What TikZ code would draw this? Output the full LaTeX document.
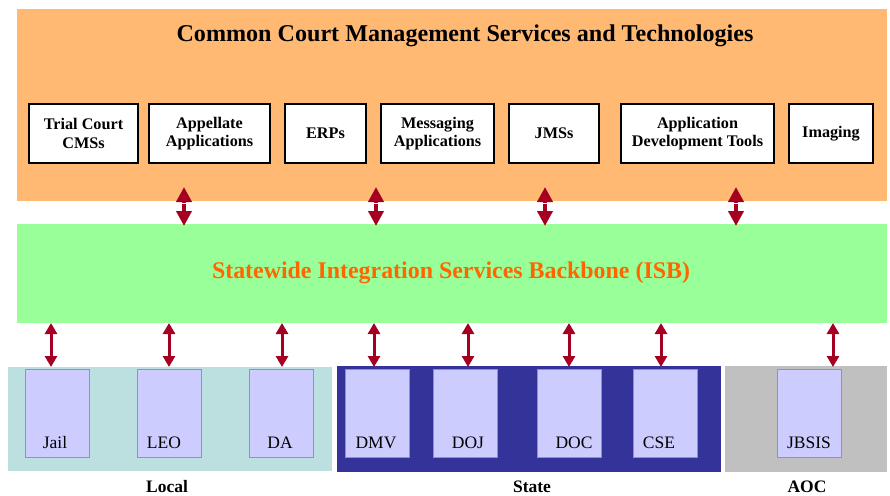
\documentclass[tikz,border=0pt]{standalone}
\usepackage{fontspec}
\setmainfont{Liberation Serif}
\usetikzlibrary{arrows.meta}
\definecolor{ccorange}{RGB}{255,185,115}
\definecolor{isbgreen}{RGB}{153,255,153}
\definecolor{isbtext}{RGB}{255,102,0}
\definecolor{linkred}{RGB}{165,0,33}
\definecolor{localbg}{RGB}{188,224,224}
\definecolor{statebg}{RGB}{51,51,153}
\definecolor{aocbg}{RGB}{192,192,192}
\definecolor{sysfill}{RGB}{204,204,255}
\definecolor{sysedge}{RGB}{150,150,150}
\tikzset{
  x=1pt, y=-1pt,
  svcbox/.style={draw=black, line width=2.2pt, fill=white, inner sep=0pt,
    font=\fontsize{16.2}{18.5}\selectfont\bfseries, align=center},
  sysbox/.style={draw=sysedge, line width=1pt, fill=sysfill, inner sep=0pt},
  syslabel/.style={font=\fontsize{17.5}{20}\selectfont, anchor=base},
  grouplabel/.style={font=\fontsize{17.5}{20}\selectfont\bfseries, anchor=base},
  biglink/.style={draw=linkred, line width=4pt,
    {Triangle[width=15pt,length=15pt]}-{Triangle[width=15pt,length=15pt]}},
  smalllink/.style={draw=linkred, line width=3pt,
    {Triangle[width=12pt,length=11pt]}-{Triangle[width=12pt,length=11pt]}},
}
\begin{document}
\begin{tikzpicture}
\useasboundingbox (0,0) rectangle (890,495);

% layers
\fill[ccorange] (17,9) rectangle (887,201);
\fill[isbgreen] (17,224) rectangle (887,323);
\node[font=\fontsize{24.1}{27}\selectfont\bfseries] (cctitle) at (465,36) {Common Court Management Services and Technologies};
\node[font=\fontsize{23.9}{27}\selectfont\bfseries, text=isbtext] (isb) at (451,273) {Statewide Integration Services Backbone (ISB)};

% court services
\node[svcbox, minimum width=109pt, minimum height=59pt] (trial) at (83.5,133.5) {Trial Court\\CMSs};
\node[svcbox, minimum width=121pt, minimum height=59pt] (appel) at (209.5,133.5) {Appellate\\Applications};
\node[svcbox, minimum width=81pt, minimum height=59pt] (erps) at (325.5,133.5) {ERPs};
\node[svcbox, minimum width=113pt, minimum height=59pt] (msg) at (437.5,133.5) {Messaging\\Applications};
\node[svcbox, minimum width=90pt, minimum height=59pt] (jms) at (554,133.5) {JMSs};
\node[svcbox, minimum width=153pt, minimum height=59pt] (adt) at (697.5,133.5) {Application\\Development Tools};
\node[svcbox, minimum width=84pt, minimum height=59pt] (img) at (831,133.5) {Imaging};

% links between court services and backbone
\foreach \xx/\nm in {184/a, 376/b, 545/c, 736/d}{
  \coordinate (top\nm) at (\xx,187);
  \coordinate (bot\nm) at (\xx,226);
  \draw[biglink] (top\nm) -- (bot\nm);
  \draw[white, line width=1pt] (\xx-6,203.5) -- (\xx+6,203.5);
}

% partner groups
\fill[localbg] (8,367) rectangle (332,471);
\fill[statebg] (337,366) rectangle (721,472);
\fill[aocbg] (725,366) rectangle (887,472);

% partner systems
\foreach \nm/\xa/\xl/\txt in {jail/25/55/Jail, leo/137/164/LEO, da/249/280/DA,
    dmv/345/376/DMV, doj/433/468/DOJ, doc/537/574/DOC, cse/633/659/CSE, jbsis/777/809/JBSIS}{
  \node[sysbox, minimum width=64pt, minimum height=88pt] (\nm) at (\xa+32,413) {};
  \node[syslabel] (\nm lbl) at (\xl,448) {\txt};
}

% links between backbone and partner systems
\foreach \xx/\nm in {51/e, 169/f, 282/g, 374/h, 468/i, 569/j, 661/k, 833/l}{
  \coordinate (up\nm) at (\xx,323);
  \coordinate (dn\nm) at (\xx,367);
  \draw[smalllink] (up\nm) -- (dn\nm);
}

% group captions
\node[grouplabel] (local) at (167,492) {Local};
\node[grouplabel] (state) at (532,492) {State};
\node[grouplabel] (aoc) at (807,492) {AOC};
\end{tikzpicture}
\end{document}
